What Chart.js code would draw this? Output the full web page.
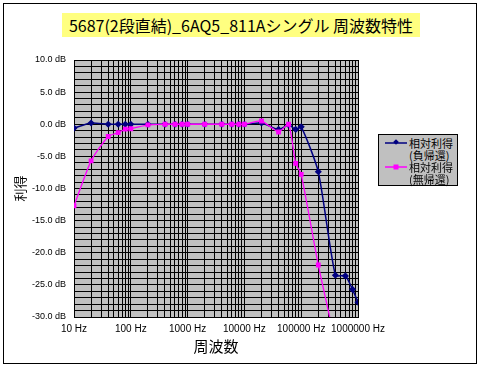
<!DOCTYPE html>
<html>
<head>
<meta charset="utf-8">
<script src="https://cdn.jsdelivr.net/npm/chart.js@4.4.1/dist/chart.umd.min.js"></script>
<style>
  body { margin: 0; background: #fff; }
  #wrap { position: relative; width: 482px; height: 369px; overflow: hidden; }
  #frame { position: absolute; left: 3px; top: 3px; width: 472px; height: 359px; border: 1px solid #000; }
  #chart { position: absolute; left: 0; top: 0; }
  #title { position: absolute; left: 0; top: 13px; width: 482px; text-align: center;
           font-family: "Noto Sans CJK JP", sans-serif; font-size: 16px; line-height: 24px; }
  #title span { background: #ffff80; padding: 0 7px; }
  #legend { position: absolute; left: 378px; top: 134px; width: 80px; height: 52px; box-sizing: border-box;
            background: #c0c0c0; border: 1px solid #000; font-family: "Noto Sans CJK JP", sans-serif;
            font-size: 11px; line-height: 12px; color: #000; }
  #legend svg { position: absolute; left: 6px; }
  #legend .txt { position: absolute; left: 30px; white-space: nowrap; }
</style>
</head>
<body>
<div id="wrap">
  <div id="frame"></div>
  <canvas id="chart" width="482" height="369"></canvas>
  <div id="title"><span>5687(2段直結)_6AQ5_811Aシングル 周波数特性</span></div>
  <div id="legend">
    <svg style="top:4px" width="22" height="8"><line x1="0" y1="4" x2="22" y2="4" stroke="#000080" stroke-width="1.5"/><rect x="9" y="1" width="4" height="4" fill="#000080" transform="rotate(45 11 3)"/></svg>
    <div class="txt" style="top:2px">相対利得<br>(負帰還)</div>
    <svg style="top:28px" width="22" height="8"><line x1="0" y1="4" x2="22" y2="4" stroke="#ff00ff" stroke-width="1.5"/><rect x="8.5" y="1.5" width="5" height="5" fill="#ff00ff"/></svg>
    <div class="txt" style="top:26px">相対利得<br>(無帰還)</div>
  </div>
</div>
<script>
// measurement frequencies (Hz)
const freqs = [10, 20, 40, 60, 80, 100, 200, 400, 600, 800, 1000, 2000, 4000, 6000, 8000, 10000,
               20000, 40000, 60000, 80000, 100000, 200000, 400000, 600000, 800000, 1000000];
// relative gain with negative feedback (dB)
const gainNfb = [-0.6, 0.2, 0.0, 0.0, 0.0, 0.0, 0.0, 0.0, 0.0, 0.0, 0.0, 0.0, 0.0, 0.0, 0.0, 0.0,
                 0.2, -0.8, -0.1, -0.8, -0.4, -7.4, -23.5, -23.6, -25.7, -27.7];
// relative gain without feedback (dB), off scale past 400 kHz
const gainNoFb = [-12.7, -5.7, -1.9, -1.3, -0.75, -0.7, -0.1, 0.0, 0.0, 0.0, 0.0, 0.0, 0.0, 0.0, 0.0, 0.0,
                  0.5, -1.2, 0.0, -6.1, -7.8, -21.9, -34, null, null, null];

const xDecades = [10, 100, 1000, 10000, 100000, 1000000];
const yLabels = [-30, -25, -20, -15, -10, -5, 0, 5, 10];

// log grid: 1..9 in every decade
const xGrid = [];
xDecades.forEach(d => {
  if (d === 1000000) { xGrid.push(d); return; }
  for (let k = 1; k <= 9; k++) xGrid.push(d * k);
});
const yGrid = [];
for (let v = -30; v <= 10; v++) yGrid.push(v);

const plotBg = {
  id: "plotBg",
  beforeDraw(c) {
    const { ctx, chartArea: a } = c;
    ctx.save();
    ctx.fillStyle = "#c0c0c0";
    ctx.fillRect(a.left, a.top, a.right - a.left, a.bottom - a.top);
    ctx.restore();
  }
};

new Chart(document.getElementById("chart"), {
  type: "line",
  data: {
    datasets: [
      {
        label: "相対利得(負帰還)",
        data: freqs.map((f, i) => ({ x: f, y: gainNfb[i] })),
        borderColor: "#000080",
        backgroundColor: "#000080",
        borderWidth: 1.5,
        tension: 0.2,
        pointStyle: "rectRot",
        pointRadius: 2.5,
        order: 2
      },
      {
        label: "相対利得(無帰還)",
        data: freqs.map((f, i) => ({ x: f, y: gainNoFb[i] })),
        borderColor: "#ff00ff",
        backgroundColor: "#ff00ff",
        borderWidth: 1.3,
        tension: 0.2,
        pointStyle: "rect",
        pointRadius: 2.5,
        order: 1
      }
    ]
  },
  options: {
    responsive: false,
    animation: false,
    devicePixelRatio: 1,
    layout: { padding: { top: 60, right: 124, bottom: 0, left: 0 } },
    plugins: { legend: { display: false }, tooltip: { enabled: false } },
    scales: {
      x: {
        type: "logarithmic",
        min: 10,
        max: 1000000,
        afterBuildTicks: s => { s.ticks = xGrid.map(v => ({ value: v })); },
        afterFit: s => { s.height = 52; },
        grid: { color: "#000", lineWidth: 1, drawTicks: false },
        border: { color: "#000" },
        ticks: {
          autoSkip: false, maxRotation: 0, minRotation: 0, padding: 6, color: "#000",
          font: { family: "Liberation Sans", size: 10 },
          callback: v => xDecades.includes(v) ? v + " Hz" : ""
        },
        title: {
          display: true, text: "周波数", color: "#000",
          font: { family: "Noto Sans CJK JP", size: 15 },
          padding: { top: 0, bottom: 14 }
        }
      },
      y: {
        min: -30,
        max: 10,
        afterBuildTicks: s => { s.ticks = yGrid.map(v => ({ value: v })); },
        afterFit: s => { s.width = 74; },
        grid: { color: "#000", lineWidth: 1, drawTicks: false },
        border: { color: "#000" },
        ticks: {
          autoSkip: false, padding: 8, color: "#000",
          font: { family: "Liberation Sans", size: 9 },
          callback: v => yLabels.includes(v) ? v.toFixed(1) + " dB" : ""
        },
        title: {
          display: true, text: "利得", color: "#000",
          font: { family: "Noto Sans CJK JP", size: 13 },
          padding: { top: 12, bottom: 0 }
        }
      }
    }
  },
  plugins: [plotBg]
});
</script>
</body>
</html>
